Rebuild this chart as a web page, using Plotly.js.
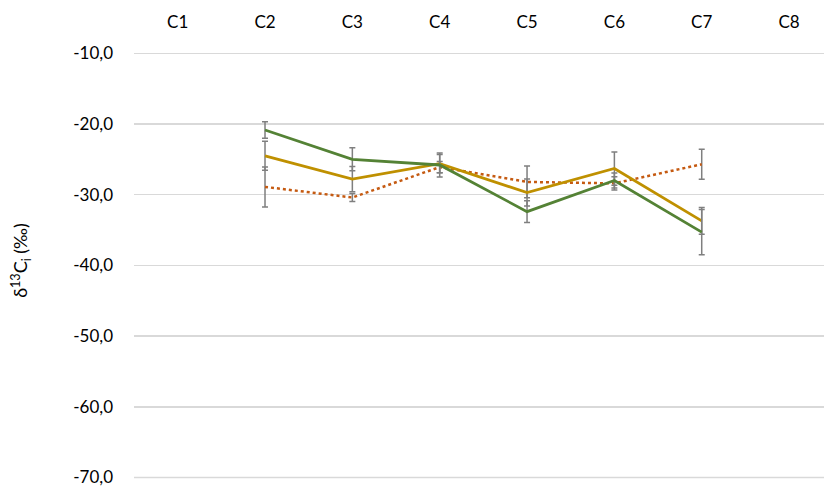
<!DOCTYPE html>
<html>
<head>
<meta charset="utf-8">
<script src="https://cdn.plot.ly/plotly-3.0.1.min.js"></script>
<style>html,body{margin:0;padding:0;background:#fff;}#chart{width:824px;height:489px;}</style>
</head>
<body>
<div id="chart"></div>
<script>
const categories = ["C1","C2","C3","C4","C5","C6","C7","C8"];
const greenValues = [null,-20.85,-25.0,-25.8,-32.4,-28.0,-35.3,null];
const greenErrors = [null,1.18,1.63,1.7,1.55,1.05,3.2,null];
const goldValues = [null,-24.5,-27.8,-25.6,-29.7,-26.3,-33.7,null];
const goldErrors = [null,2.05,1.8,1.3,1.9,2.35,1.9,null];
const orangeValues = [null,-28.9,-30.4,-26.1,-28.2,-28.4,-25.7,null];
const orangeErrors = [null,2.83,0.55,0.8,2.24,0.95,2.12,null];
const yTicks = [-70,-60,-50,-40,-30,-20,-10];
const yTickLabels = ["-70,0","-60,0","-50,0","-40,0","-30,0","-20,0","-10,0"];

function errOpts(arr){
  return {type:'data', array:arr, visible:true, color:'#7f7f7f', thickness:1.5, width:3};
}
const traces = [
  {x:categories, y:orangeValues, type:'scatter', mode:'lines', name:'Series 3',
   line:{color:'#C55A11', width:2.5, dash:'dot'}, error_y:errOpts(orangeErrors)},
  {x:categories, y:goldValues, type:'scatter', mode:'lines', name:'Series 2',
   line:{color:'#BF9000', width:2.8}, error_y:errOpts(goldErrors)},
  {x:categories, y:greenValues, type:'scatter', mode:'lines', name:'Series 1',
   line:{color:'#548235', width:2.8}, error_y:errOpts(greenErrors)}
];
const layout = {
  width:824, height:489,
  margin:{l:134, r:0, t:38, b:6},
  paper_bgcolor:'#fff', plot_bgcolor:'#fff',
  showlegend:false,
  font:{family:'Lato, "Liberation Sans", sans-serif', size:17, color:'#000'},
  xaxis:{type:'category', side:'top', range:[-0.5,7.4], showgrid:false, zeroline:false,
         showline:false, ticks:'', tickfont:{size:17}, ticklabelstandoff:6},
  yaxis:{range:[-70.78,-7.84], tickmode:'array', tickvals:yTicks, ticktext:yTickLabels, showgrid:true,
         gridcolor:'#d9d9d9', gridwidth:1.5, zeroline:false, showline:false, ticks:'',
         ticklabelstandoff:20, tickfont:{size:17},
         title:{text:'δ<sup>13</sup>C<sub>i</sub> (‰)', font:{size:18}, standoff:40}},
  shapes:[{type:'line', xref:'paper', yref:'y', x0:0, x1:1, y0:yTicks[0], y1:yTicks[0],
           line:{color:'#d9d9d9', width:1.5}, layer:'below'}]
};
Plotly.newPlot('chart', traces, layout, {staticPlot:true, displayModeBar:false});
</script>
</body>
</html>
